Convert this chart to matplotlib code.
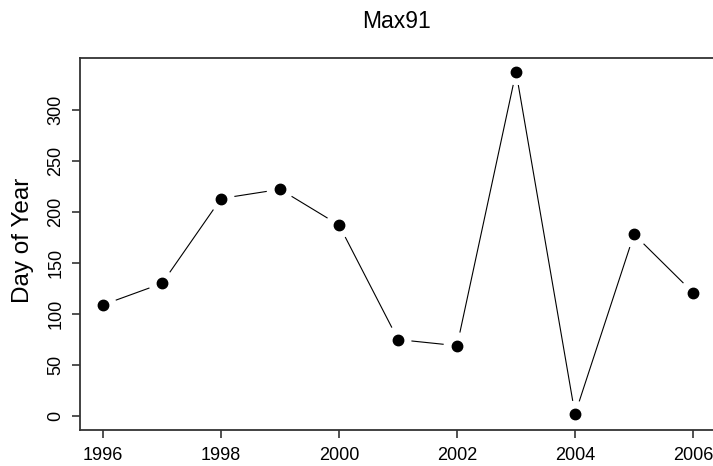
import matplotlib
matplotlib.use("Agg")
import matplotlib.pyplot as plt
import numpy as np

years = [1996, 1997, 1998, 1999, 2000, 2001, 2002, 2003, 2004, 2005, 2006]
day_of_year = [109, 130, 213, 222, 187, 75, 69, 337, 2, 178, 121]
x_ticks = [1996, 1998, 2000, 2002, 2004, 2006]
y_ticks = [0, 50, 100, 150, 200, 250, 300]

plt.rcParams['font.family'] = ['Liberation Sans', 'DejaVu Sans']

W, H = 713, 466
fig = plt.figure(figsize=(W / 100, H / 100), dpi=100)
ax = fig.add_axes([79.5 / W, 1 - 430 / H, (716.6 - 79.5) / W, (430 - 58) / H])

# R-style 4% padding
xr = max(years) - min(years)
yr = max(day_of_year) - 0
ax.set_xlim(min(years) - 0.04 * xr, max(years) + 0.04 * xr)
ax.set_ylim(0 - 0.04 * yr, max(day_of_year) + 0.04 * yr)

# type="b": segments with gaps around each point
gap = 14.0
pts = ax.transData.transform(np.column_stack([years, day_of_year]))
inv = ax.transData.inverted()
for p0, p1 in zip(pts[:-1], pts[1:]):
    d = p1 - p0
    n = np.hypot(*d)
    if n <= 2 * gap:
        continue
    u = d / n
    a = inv.transform(p0 + u * gap)
    b = inv.transform(p1 - u * gap)
    ax.plot([a[0], b[0]], [a[1], b[1]], color='black', lw=0.8)

ax.plot(years, day_of_year, 'o', color='black', ms=7.5, zorder=3)

ax.set_xticks(x_ticks)
ax.set_yticks(y_ticks)
ax.tick_params(direction='out', length=6, width=1.2, color='#333333',
               labelsize=13)
ax.tick_params(axis='x', pad=6)
ax.tick_params(axis='y', pad=5)
for lab in ax.get_yticklabels():
    lab.set_rotation(90)
    lab.set_va('center')
for s in ax.spines.values():
    s.set_linewidth(1.3)
    s.set_color('#333333')

fig.text(23 / W, 1 - 240 / H, 'Day of Year', rotation=90,
         ha='center', va='center', fontsize=17.5)
fig.text(397 / W, 1 - 22 / H, 'Max91', ha='center', va='center', fontsize=16.5)

fig.savefig('out.png', dpi=100)
